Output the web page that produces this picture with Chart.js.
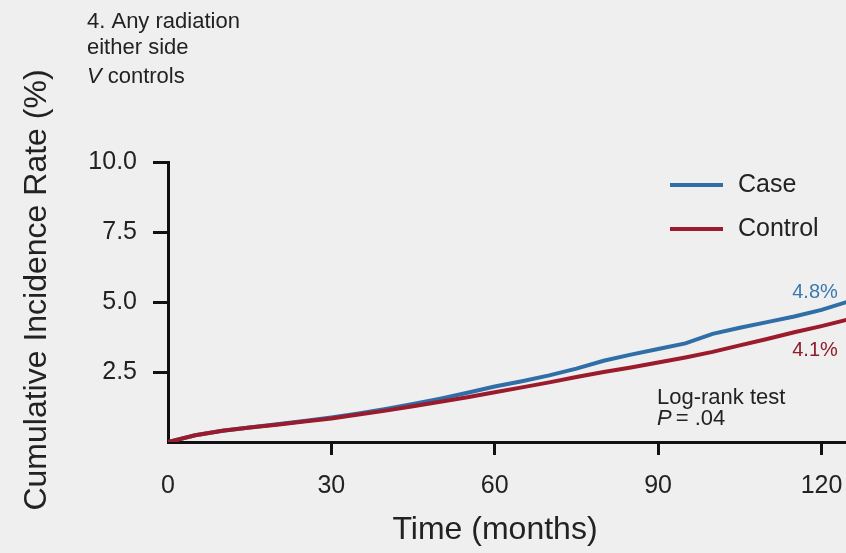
<!DOCTYPE html>
<html><head><meta charset="utf-8">
<script src="https://cdn.jsdelivr.net/npm/chart.js@4/dist/chart.umd.min.js"></script>
<style>html,body{margin:0;padding:0;background:#efefef;overflow:hidden}#wrap{width:846px;height:553px}</style>
</head><body><div id="wrap"><canvas id="c" width="846" height="553"></canvas></div>
<script>
const months      = [0, 5, 10, 15, 20, 25, 30, 35, 40, 45, 50, 55, 60, 65, 70, 75, 80, 85, 90, 95, 100, 105, 110, 115, 120, 125];
const caseRate    = [0, 0.24, 0.40, 0.52, 0.63, 0.75, 0.88, 1.02, 1.18, 1.36, 1.55, 1.76, 1.98, 2.17, 2.38, 2.62, 2.90, 3.12, 3.32, 3.52, 3.86, 4.08, 4.28, 4.48, 4.72, 5.02];
const controlRate = [0, 0.24, 0.40, 0.52, 0.62, 0.73, 0.84, 0.98, 1.12, 1.28, 1.44, 1.60, 1.78, 1.95, 2.13, 2.32, 2.50, 2.66, 2.84, 3.02, 3.22, 3.45, 3.68, 3.92, 4.14, 4.38];
const xTicks = [0, 30, 60, 90, 120];
const yTicks = [0, 2.5, 5, 7.5, 10];
const seriesNames = ['Case', 'Control'];
const endLabels = ['4.8%', '4.1%'];
const panelTitle = ['4. Any radiation', 'either side', 'V', 'controls'];
const testLabel = ['Log-rank test', 'P', '= .04'];
const xTitle = 'Time (months)';
const yTitle = 'Cumulative Incidence Rate (%)';

const FONT = '"Liberation Sans", Arial, Helvetica, sans-serif';
const BLUE = '#2f6ea6';
const RED = '#9b1a2b';
const INK = '#222222';

const bgPlugin = {
  id: 'bg',
  beforeDraw(chart) {
    const c = chart.ctx;
    c.save(); c.fillStyle = '#efefef'; c.fillRect(0, 0, chart.width, chart.height); c.restore();
  }
};

const textPlugin = {
  id: 'texts',
  afterDraw(chart) {
    const c = chart.ctx, xs = chart.scales.x, ys = chart.scales.y;
    c.save();
    c.textBaseline = 'middle';
    c.fillStyle = INK;
    // panel title
    c.textAlign = 'left';
    c.font = '22px ' + FONT;
    c.fillText(panelTitle[0], 87, 22);
    c.fillText(panelTitle[1], 87, 48);
    c.font = 'italic 22px ' + FONT;
    c.fillText(panelTitle[2], 87, 77);
    const vw = c.measureText(panelTitle[2]).width;
    c.font = '22px ' + FONT;
    c.fillText(panelTitle[3], 87 + vw + 6, 77);

    // axis titles
    c.font = '32px ' + FONT;
    c.textAlign = 'center';
    c.fillText(xTitle, 495, 530);
    c.save();
    c.translate(37, 290);
    c.rotate(-Math.PI / 2);
    c.fillText(yTitle, 0, 0);
    c.restore();

    // legend
    const ds = chart.data.datasets;
    const legY = [185, 229];
    c.font = '25px ' + FONT;
    c.textAlign = 'left';
    for (let i = 0; i < ds.length; i++) {
      c.strokeStyle = ds[i].borderColor;
      c.lineWidth = 4;
      c.beginPath(); c.moveTo(670, legY[i]); c.lineTo(723, legY[i]); c.stroke();
      c.fillStyle = INK;
      c.fillText(ds[i].label, 738, legY[i]);
    }

    // end labels
    c.font = '20px ' + FONT;
    c.textAlign = 'right';
    c.fillStyle = '#3a78b0';
    c.fillText(endLabels[0], xs.getPixelForValue(123.0), ys.getPixelForValue(5.35));
    c.fillStyle = '#8f1c2a';
    c.fillText(endLabels[1], xs.getPixelForValue(123.0), ys.getPixelForValue(3.28));

    // log-rank
    c.fillStyle = INK;
    c.textAlign = 'left';
    c.font = '22px ' + FONT;
    c.fillText(testLabel[0], 657, 398);
    c.font = 'italic 22px ' + FONT;
    c.fillText(testLabel[1], 657, 419);
    const pw = c.measureText(testLabel[1]).width;
    c.font = '22px ' + FONT;
    c.fillText(testLabel[2], 657 + pw + 4, 419);
    c.restore();
  }
};

new Chart(document.getElementById('c'), {
  type: 'line',
  data: {
    datasets: [
      { label: seriesNames[0], data: months.map((m, i) => ({ x: m, y: caseRate[i] })), borderColor: BLUE, borderWidth: 4, pointRadius: 0, tension: 0, order: 2 },
      { label: seriesNames[1], data: months.map((m, i) => ({ x: m, y: controlRate[i] })), borderColor: RED, borderWidth: 4, pointRadius: 0, tension: 0, order: 1 }
    ]
  },
  options: {
    responsive: false,
    animation: false,
    devicePixelRatio: 1,
    layout: { padding: { top: 162, right: 0, left: 0, bottom: 0 } },
    plugins: { legend: { display: false }, tooltip: { enabled: false }, title: { display: false } },
    scales: {
      x: {
        type: 'linear', min: 0, max: 124.5,
        afterBuildTicks: s => { s.ticks = xTicks.map(v => ({ value: v })); },
        afterFit: s => { s.height = 111; s.paddingRight = 0; s.paddingLeft = 0; },
        ticks: { font: { family: FONT, size: 25 }, color: INK, padding: 16, maxRotation: 0, autoSkip: false },
        grid: { drawOnChartArea: false, drawTicks: true, tickLength: 13, tickWidth: 3,
                tickColor: ctx => (ctx.tick && ctx.tick.value === 0) ? 'rgba(0,0,0,0)' : '#111' },
        border: { display: true, width: 3, color: '#111' }
      },
      y: {
        type: 'linear', min: 0, max: 10,
        afterBuildTicks: s => { s.ticks = yTicks.map(v => ({ value: v })); },
        afterFit: s => { s.width = 168; },
        ticks: { font: { family: FONT, size: 25 }, color: INK, padding: 16, autoSkip: false,
                 callback: v => v === 0 ? '' : v.toFixed(1) },
        grid: { drawOnChartArea: false, drawTicks: true, tickLength: 15, tickWidth: 3,
                tickColor: ctx => (ctx.tick && ctx.tick.value === 0) ? 'rgba(0,0,0,0)' : '#111' },
        border: { display: true, width: 3, color: '#111' }
      }
    }
  },
  plugins: [bgPlugin, textPlugin]
});
</script>
</body></html>
